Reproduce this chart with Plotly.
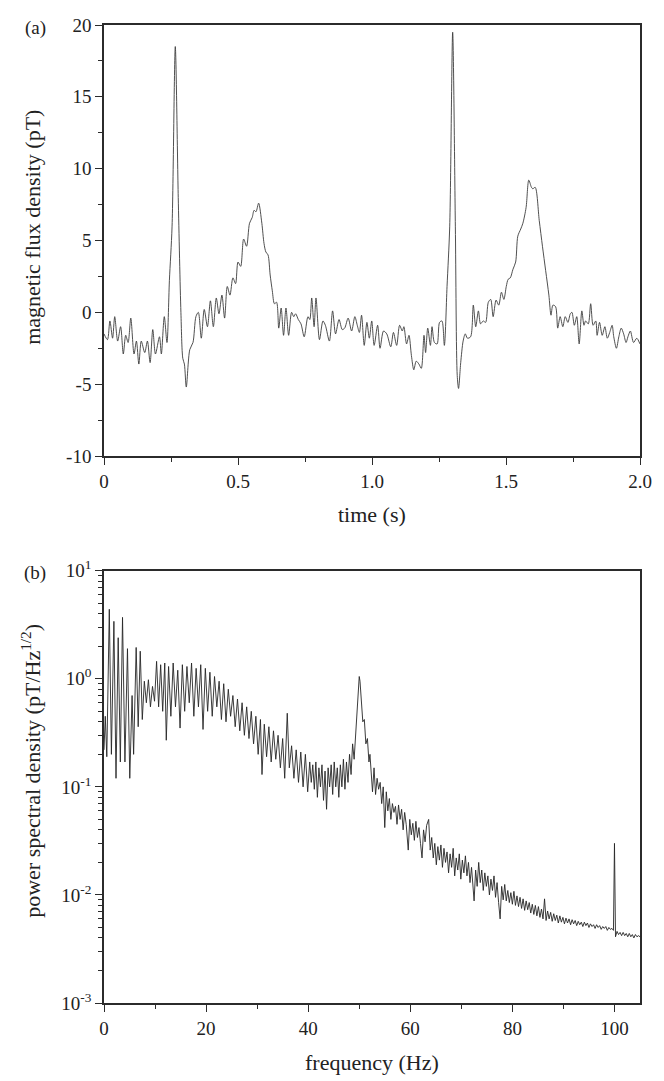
import plotly.graph_objects as go

# ---------------- data ----------------
time_s = [0.000, 0.013, 0.022, 0.032, 0.040, 0.051, 0.062, 0.072, 0.081, 0.090,
          0.100, 0.112, 0.121, 0.130, 0.139, 0.152, 0.162, 0.172, 0.182, 0.192,
          0.207, 0.214, 0.225, 0.235, 0.244, 0.254, 0.266, 0.277, 0.287, 0.294,
          0.300, 0.307, 0.320, 0.332, 0.343, 0.352, 0.363, 0.374, 0.386, 0.397,
          0.408, 0.419, 0.429, 0.440, 0.450, 0.460, 0.470, 0.481, 0.491, 0.500,
          0.510, 0.521, 0.532, 0.543, 0.553, 0.560, 0.567, 0.577, 0.589, 0.597,
          0.604, 0.612, 0.620, 0.628, 0.636, 0.644, 0.652, 0.661, 0.670, 0.679,
          0.689, 0.700, 0.708, 0.715, 0.725, 0.735, 0.747, 0.761, 0.768, 0.775,
          0.784, 0.791, 0.804, 0.817, 0.826, 0.841, 0.853, 0.864, 0.877, 0.889,
          0.898, 0.911, 0.924, 0.936, 0.945, 0.953, 0.961, 0.971, 0.981, 0.990,
          0.999, 1.008, 1.021, 1.030, 1.043, 1.055, 1.070, 1.080, 1.092, 1.103,
          1.113, 1.119, 1.129, 1.138, 1.147, 1.156, 1.165, 1.175, 1.184, 1.194,
          1.200, 1.208, 1.218, 1.224, 1.233, 1.243, 1.252, 1.261, 1.270, 1.280,
          1.290, 1.301, 1.311, 1.318, 1.323, 1.331, 1.340, 1.348, 1.356, 1.368,
          1.378, 1.387, 1.397, 1.405, 1.415, 1.424, 1.434, 1.443, 1.452, 1.463,
          1.473, 1.483, 1.492, 1.501, 1.508, 1.516, 1.526, 1.536, 1.544, 1.555,
          1.563, 1.575, 1.585, 1.595, 1.600, 1.609, 1.624, 1.636, 1.648, 1.660,
          1.668, 1.675, 1.685, 1.693, 1.702, 1.712, 1.721, 1.731, 1.740, 1.746,
          1.755, 1.764, 1.773, 1.783, 1.791, 1.797, 1.807, 1.816, 1.825, 1.835,
          1.840, 1.849, 1.859, 1.869, 1.878, 1.887, 1.896, 1.902, 1.912, 1.921,
          1.930, 1.939, 1.948, 1.955, 1.964, 1.976, 1.988, 2.000]

flux_pT = [-1.5, -1.9, -0.6, -1.8, -0.3, -2.0, -1.0, -2.9, -1.6, -2.1,
           -0.4, -2.9, -2.0, -3.6, -2.0, -2.8, -2.0, -3.5, -1.2, -2.9,
           -1.7, -2.9, -0.3, -2.1, 2.2, 6.0, 18.5, 8.0, 0.0, -3.2,
           -3.6, -5.2, -2.6, -2.1, -0.3, 0.0, -1.8, 0.2, -1.0, 0.8,
           -1.0, 1.0, -0.1, 1.2, -0.4, 1.8, 1.2, 2.4, 2.0, 3.5,
           3.2, 5.1, 4.6, 6.2, 6.6, 7.1, 7.0, 7.6, 6.2, 4.8,
           4.2, 4.0, 2.6, 1.5, 0.6, 0.7, -1.1, 0.3, -1.6, 0.3,
           -1.6, 0.0, -0.3, -0.1, -0.5, -0.8, -1.7, -0.3, -0.5, 1.0,
           -1.0, 1.0, -1.9, -0.6, -0.9, -2.0, 0.1, -1.5, -0.5, -1.2,
           -1.1, -0.4, -1.3, -0.3, -0.9, -1.4, -0.2, -2.3, -0.7, -1.8,
           -0.6, -2.3, -0.9, -2.5, -1.3, -1.5, -2.4, -1.4, -2.3, -0.9,
           -1.3, -1.0, -2.2, -1.6, -3.0, -4.0, -3.4, -3.6, -3.9, -1.6,
           -2.8, -1.1, -2.3, -1.0, -2.1, -2.2, -0.7, -0.6, -2.3, 1.8,
           6.0, 19.5, 6.0, -4.4, -5.3, -3.5, -2.0, -1.5, -1.8, -1.7,
           0.5, -1.0, 0.1, -0.8, -0.6, -0.7, 0.7, 0.9, -0.3, 0.85,
           0.5, 1.4, 0.9, 1.8, 2.3, 2.4, 3.0, 3.5, 5.3, 5.8,
           6.2, 7.3, 9.2, 8.7, 8.6, 8.7, 6.4, 4.6, 2.9, 1.2,
           -0.2, 0.5, 0.4, -1.1, -0.3, -1.0, -0.3, -0.7, -0.1, 0.0,
           -0.9, -0.3, -2.2, 0.1, -0.9, -0.6, -0.8, 0.6, -0.9, -0.6,
           -1.6, -0.7, -1.6, -1.0, -1.8, -1.4, -0.9, -1.7, -2.5, -1.7,
           -1.1, -1.5, -2.1, -1.7, -1.3, -2.1, -1.8, -2.2]

freq_Hz = [0.00, 0.25, 0.55, 1.04, 1.45, 1.94, 2.35, 2.78, 3.20, 3.63,
           4.10, 4.60, 5.05, 5.50, 5.80, 6.30, 6.70, 7.10, 7.50, 7.90,
           8.30, 8.70, 9.10, 9.50, 9.90, 10.30, 10.70, 11.10, 11.50, 11.90,
           12.20, 12.65, 13.10, 13.55, 14.00, 14.45, 14.90, 15.35, 15.80, 16.25,
           16.70, 17.15, 17.60, 18.05, 18.50, 18.95, 19.40, 19.85, 20.30, 20.75,
           21.20, 21.65, 22.10, 22.55, 23.00, 23.45, 23.90, 24.35, 24.80, 25.25,
           25.70, 26.15, 26.60, 27.05, 27.50, 27.95, 28.40, 28.85, 29.30, 29.75,
           30.20, 30.65, 30.95, 31.40, 31.85, 32.30, 32.75, 33.20, 33.65, 34.10,
           34.55, 35.00, 35.40, 35.90, 36.30, 36.75, 37.20, 37.65, 38.10, 38.55,
           39.00, 39.45, 39.90,
           40.3, 40.6, 40.9, 41.2, 41.5, 41.8, 42.1, 42.4, 42.7, 43.0,
           43.3, 43.6, 43.9, 44.2, 44.5, 44.8, 45.1, 45.4, 45.7, 46.0,
           46.3, 46.6, 46.9, 47.2, 47.5, 47.8, 48.1, 48.4, 48.7, 49.0,
           49.3, 49.6, 49.85, 50.0, 50.15, 50.4, 50.7, 51.0, 51.3, 51.6,
           51.9, 52.1,
           52.3, 52.6, 52.9, 53.2, 53.5, 53.8, 54.1, 54.4, 54.7, 55.0,
           55.3, 55.6, 55.9, 56.2, 56.5, 56.8, 57.1, 57.4, 57.7, 58.0,
           58.3, 58.6, 58.9, 59.2, 59.6, 59.9, 60.2, 60.5, 60.8, 61.1,
           61.4, 61.7, 62.0, 62.3, 62.6, 62.9, 63.2, 63.6, 63.9, 64.2,
           64.5, 64.8, 65.1, 65.4, 65.7, 66.0, 66.3, 66.6, 66.9, 67.2,
           67.5, 67.8, 68.1, 68.4, 68.7, 69.0, 69.3, 69.6, 69.9, 70.2,
           70.5, 70.8, 71.1, 71.4, 71.7, 72.0, 72.5, 72.8, 73.1, 73.4,
           73.7, 74.0, 74.3, 74.6, 74.9, 75.2, 75.5, 75.8, 76.1, 76.4,
           76.7, 77.0, 77.3, 77.6, 77.9, 78.2, 78.5, 78.8, 79.1, 79.4,
           79.7, 80.0, 80.3, 80.6, 80.9, 81.2, 81.5, 81.8, 82.1, 82.4,
           82.7, 83.0, 83.3, 83.6, 83.9, 84.2, 84.5, 84.8, 85.1, 85.4,
           85.7, 86.0, 86.3, 86.6, 86.9, 87.2, 87.5, 87.8, 88.1, 88.4,
           88.7, 89.0, 89.3, 89.6, 89.9, 90.2, 90.5, 90.8, 91.1, 91.4,
           91.7, 92.0, 92.3, 92.6, 92.9, 93.2, 93.5, 93.8, 94.1, 94.4,
           94.7, 95.0, 95.3, 95.6, 95.9, 96.2, 96.5, 96.8, 97.1, 97.4,
           97.7, 98.0, 98.3, 98.6, 98.9, 99.2, 99.5, 99.8, 100.0, 100.2,
           100.5, 100.8, 101.1, 101.4, 101.7, 102.0, 102.3, 102.6, 102.9, 103.2,
           103.5, 103.8, 104.1, 104.4, 104.7, 105.0]

psd = [0.22, 0.45, 0.19, 4.4, 0.20, 3.4, 0.12, 2.4, 0.17, 3.7,
       0.17, 1.9, 0.12, 0.70, 0.20, 1.95, 0.36, 1.8, 0.42, 0.95,
       0.60, 0.98, 0.55, 0.85, 0.62, 1.45, 0.55, 1.35, 0.50, 1.40,
       0.27, 1.30, 0.45, 1.40, 0.55, 1.20, 0.35, 1.35, 0.50, 1.30,
       0.60, 1.40, 0.45, 1.25, 0.55, 1.35, 0.34, 1.25, 0.50, 1.15,
       0.45, 1.05, 0.55, 0.95, 0.42, 0.90, 0.40, 0.80, 0.45, 0.70,
       0.36, 0.65, 0.33, 0.60, 0.30, 0.55, 0.28, 0.50, 0.25, 0.45,
       0.20, 0.42, 0.13, 0.38, 0.19, 0.36, 0.17, 0.33, 0.18, 0.30,
       0.15, 0.28, 0.12, 0.48, 0.15, 0.24, 0.12, 0.22, 0.11, 0.21,
       0.10, 0.20, 0.09,
       0.17, 0.11, 0.16, 0.095, 0.17, 0.08, 0.15, 0.10, 0.16, 0.075,
       0.14, 0.062, 0.15, 0.10, 0.16, 0.085, 0.17, 0.10, 0.15, 0.08,
       0.16, 0.10, 0.18, 0.095, 0.17, 0.11, 0.20, 0.13, 0.25, 0.18,
       0.33, 0.55, 0.80, 1.05, 0.95, 0.65, 0.40, 0.42, 0.25, 0.28,
       0.17, 0.20,
       0.13, 0.09, 0.15, 0.085, 0.12, 0.095, 0.11, 0.07, 0.10, 0.042,
       0.09, 0.06, 0.078, 0.05, 0.07, 0.058, 0.066, 0.045, 0.068, 0.05,
       0.062, 0.04, 0.058, 0.045, 0.026, 0.05, 0.036, 0.046, 0.032, 0.048,
       0.034, 0.042, 0.03, 0.022, 0.04, 0.031, 0.044, 0.05, 0.026, 0.034,
       0.022, 0.03, 0.019, 0.028, 0.021, 0.029, 0.018, 0.027, 0.02, 0.025,
       0.016, 0.024, 0.018, 0.027, 0.015, 0.022, 0.017, 0.024, 0.014, 0.021,
       0.016, 0.023, 0.015, 0.02, 0.013, 0.018, 0.0088, 0.017, 0.012, 0.02,
       0.013, 0.017, 0.011, 0.016, 0.012, 0.015, 0.010, 0.014, 0.011, 0.015,
       0.0095, 0.013, 0.0085, 0.006, 0.012, 0.009, 0.0125, 0.0088, 0.011, 0.0085,
       0.0105, 0.0082, 0.0108, 0.008, 0.0098, 0.0078, 0.0095, 0.0075, 0.0092, 0.0072,
       0.0088, 0.0073, 0.0085, 0.0068, 0.0082, 0.0066, 0.008, 0.0064, 0.0078, 0.0062,
       0.0074, 0.006, 0.0092, 0.0058, 0.0071, 0.006, 0.0069, 0.0057, 0.0067, 0.0058,
       0.0065, 0.0055, 0.0064, 0.0056, 0.0062, 0.0054, 0.0061, 0.0055, 0.0060, 0.0053,
       0.0059, 0.0054, 0.0058, 0.0052, 0.0057, 0.0053, 0.0056, 0.0051, 0.0056, 0.0052,
       0.0055, 0.005, 0.0054, 0.0051, 0.0053, 0.0049, 0.0053, 0.005, 0.0052, 0.0048,
       0.0051, 0.0049, 0.0051, 0.0047, 0.005, 0.0048, 0.0049, 0.0047, 0.030, 0.0041,
       0.0046, 0.0043, 0.0045, 0.0042, 0.0045, 0.0042, 0.0044, 0.0041, 0.0044, 0.0041,
       0.0043, 0.0040, 0.0043, 0.0041, 0.0042, 0.0041]

time_ticks = [0, 0.5, 1.0, 1.5, 2.0]
time_labels = ["0", "0.5", "1.0", "1.5", "2.0"]
flux_ticks = [-10, -5, 0, 5, 10, 15, 20]
flux_labels = ["-10", "-5", "0", "5", "10", "15", "20"]
freq_ticks = [0, 20, 40, 60, 80, 100]
freq_labels = ["0", "20", "40", "60", "80", "100"]
psd_ticks = [1e-3, 1e-2, 1e-1, 1e0, 1e1]
psd_labels = ["10<sup>-3</sup>", "10<sup>-2</sup>", "10<sup>-1</sup>",
              "10<sup>0</sup>", "10<sup>1</sup>"]

# ---------------- figure ----------------
FONT = "Times New Roman, Liberation Serif, Times, serif"
AX = "#2b2b2b"

fig = go.Figure()
fig.add_trace(go.Scatter(x=time_s, y=flux_pT, mode="lines",
                         line=dict(color="#3c3c3c", width=0.9, shape="spline", smoothing=0.8),
                         xaxis="x", yaxis="y", hoverinfo="skip"))
fig.add_trace(go.Scatter(x=freq_Hz, y=psd, mode="lines",
                         line=dict(color="#262626", width=0.9),
                         xaxis="x2", yaxis="y2", hoverinfo="skip"))

common = dict(showline=True, linewidth=1.6, linecolor=AX, mirror=True,
              ticks="outside", ticklen=7, tickwidth=1.4, tickcolor=AX,
              showgrid=False, zeroline=False,
              tickfont=dict(family=FONT, size=19, color="#222"))

log_minor = [m * 10.0 ** e for e in range(-3, 1) for m in range(2, 10)]

fig.update_layout(
    width=664, height=1081,
    margin=dict(l=104, r=19, t=16, b=78),
    paper_bgcolor="white", plot_bgcolor="white",
    showlegend=False,
    font=dict(family=FONT, size=19, color="#222"),
    xaxis=dict(domain=[0, 1], anchor="y", range=[0, 2],
               tickmode="array", tickvals=time_ticks, ticktext=time_labels,
               minor=dict(dtick=0.25, tick0=0, ticks="outside", ticklen=4,
                          tickwidth=1.2, tickcolor=AX, showgrid=False),
               **common),
    yaxis=dict(domain=[0.5593, 1], anchor="x", range=[-10, 20],
               tickmode="array", tickvals=flux_ticks, ticktext=flux_labels,
               minor=dict(dtick=2.5, tick0=0, ticks="outside", ticklen=4,
                          tickwidth=1.2, tickcolor=AX, showgrid=False),
               **common),
    xaxis2=dict(domain=[0, 1], anchor="y2", range=[0, 105],
                tickmode="array", tickvals=freq_ticks, ticktext=freq_labels,
                minor=dict(dtick=10, tick0=0, ticks="outside", ticklen=4,
                           tickwidth=1.2, tickcolor=AX, showgrid=False),
                **common),
    yaxis2=dict(domain=[0, 0.442], anchor="x2", type="log", range=[-3, 1],
                tickmode="array", tickvals=psd_ticks, ticktext=psd_labels,
                minor=dict(tickmode="array", tickvals=log_minor, ticks="outside",
                           ticklen=4, tickwidth=1.2, tickcolor=AX, showgrid=False),
                **common),
)

def px_x(px):
    return (px - 104) / 541.0

def px_y(py):
    return (1003 - py) / 987.0

ann = [
    dict(text="(a)", x=px_x(35), y=px_y(19), size=19, angle=0),
    dict(text="(b)", x=px_x(34), y=px_y(569), size=19, angle=0),
    dict(text="magnetic flux density (pT)", x=px_x(31), y=px_y(220), size=22, angle=-90),
    dict(text="power spectral density (pT/Hz<sup>1/2</sup>)", x=px_x(30), y=px_y(769), size=22, angle=-90),
    dict(text="time (s)", x=px_x(374.5), y=px_y(510), size=22, angle=0),
    dict(text="frequency (Hz)", x=px_x(374.5), y=px_y(1063), size=22, angle=0),
]
for a in ann:
    fig.add_annotation(text=a["text"], x=a["x"], y=a["y"], xref="paper", yref="paper",
                       xanchor="center", yanchor="middle", showarrow=False,
                       textangle=a["angle"],
                       font=dict(family=FONT, size=a["size"], color="#222"))

fig.write_html("out.html",
               config={"displayModeBar": False},
               post_script="document.body.style.margin='0';document.body.style.overflow='hidden';")
